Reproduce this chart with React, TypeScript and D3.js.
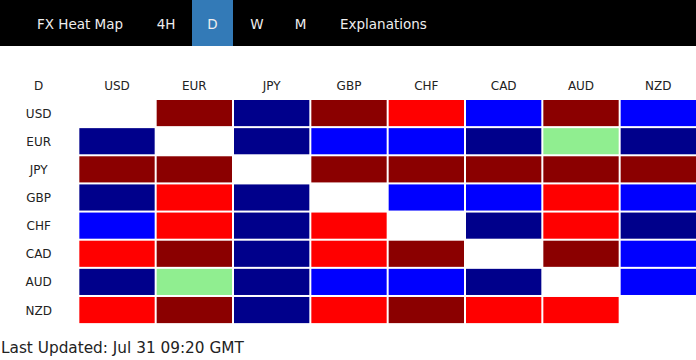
import React from "react";
import * as d3 from "d3";

const W = 696;
const H = 360;

const currencies = ["USD", "EUR", "JPY", "GBP", "CHF", "CAD", "AUD", "NZD"];
const timeframes = ["4H", "D", "W", "M"];
const activeFrame = "D";
const footerText = "Last Updated: Jul 31 09:20 GMT";

// Strength level per cell: 2 strong up, 1 up, 0 neutral, -1 down, -2 strong down, null = same currency
const rowUSD = [null, 2, -2, 2, 1, -1, 2, -1];
const rowEUR = [-2, null, -2, -1, -1, -2, 0, -2];
const rowJPY = [2, 2, null, 2, 2, 2, 2, 2];
const rowGBP = [-2, 1, -2, null, -1, -1, 1, -1];
const rowCHF = [-1, 1, -2, 1, null, -2, 1, -2];
const rowCAD = [1, 2, -2, 1, 2, null, 2, -1];
const rowAUD = [-2, 0, -2, -1, -1, -2, null, -1];
const rowNZD = [1, 2, -2, 1, 2, 1, 1, null];
const matrix = [rowUSD, rowEUR, rowJPY, rowGBP, rowCHF, rowCAD, rowAUD, rowNZD];

const levels = [2, 1, 0, -1, -2];
const levelColors = ["#8b0000", "#ff0000", "#90ee90", "#0000ff", "#00008b"];

export default function App() {
  const color = d3.scaleOrdinal<number, string>().domain(levels).range(levelColors);
  const x = d3.scaleBand<string>().domain([activeFrame, ...currencies]).range([0, W]);
  const rowStep = 28.14;
  const y = d3
    .scaleBand<string>()
    .domain(currencies)
    .range([98, 98 + rowStep * currencies.length]);
  const gap = 2;
  const font = "'DejaVu Sans', Verdana, sans-serif";

  const navX: Record<string, number> = { "4H": 166, D: 212.5, W: 257, M: 300.5 };

  return (
    <svg
      width={W}
      height={H}
      style={{ position: "absolute", left: 0, top: 0, display: "block", background: "#fff" }}
      fontFamily={font}
    >
      {/* nav bar */}
      <rect x={0} y={0} width={W} height={46} fill="#000" />
      <rect x={192} y={0} width={41} height={46} fill="#337ab7" />
      <text x={37} y={29} fill="#eee" fontSize={13.5}>
        FX Heat Map
      </text>
      {timeframes.map((t) => (
        <text key={t} x={navX[t]} y={29} fill="#eee" fontSize={13.5} textAnchor="middle">
          {t}
        </text>
      ))}
      <text x={340} y={29} fill="#eee" fontSize={13.5}>
        Explanations
      </text>

      {/* header row */}
      {[activeFrame, ...currencies].map((c) => (
        <text
          key={"h" + c}
          x={(x(c) as number) + x.bandwidth() / 2 + (c === activeFrame ? 0 : gap / 2)}
          y={89.5}
          fontSize={12}
          fill="#222"
          textAnchor="middle"
        >
          {c}
        </text>
      ))}

      {/* rows */}
      {currencies.map((r, i) => (
        <g key={r}>
          <text
            x={(x(activeFrame) as number) + x.bandwidth() / 2}
            y={(y(r) as number) + gap + (y.bandwidth() - gap) / 2 + 4.5}
            fontSize={12}
            fill="#222"
            textAnchor="middle"
          >
            {r}
          </text>
          {currencies.map((c, j) => {
            const v = matrix[i][j];
            return (
              <rect
                key={c}
                x={(x(c) as number) + gap}
                y={(y(r) as number) + gap}
                width={x.bandwidth() - gap}
                height={y.bandwidth() - gap}
                fill={v === null ? "#fff" : color(v)}
              />
            );
          })}
        </g>
      ))}

      <text x={1} y={353} fontSize={15.3} fill="#222">
        {footerText}
      </text>
    </svg>
  );
}
